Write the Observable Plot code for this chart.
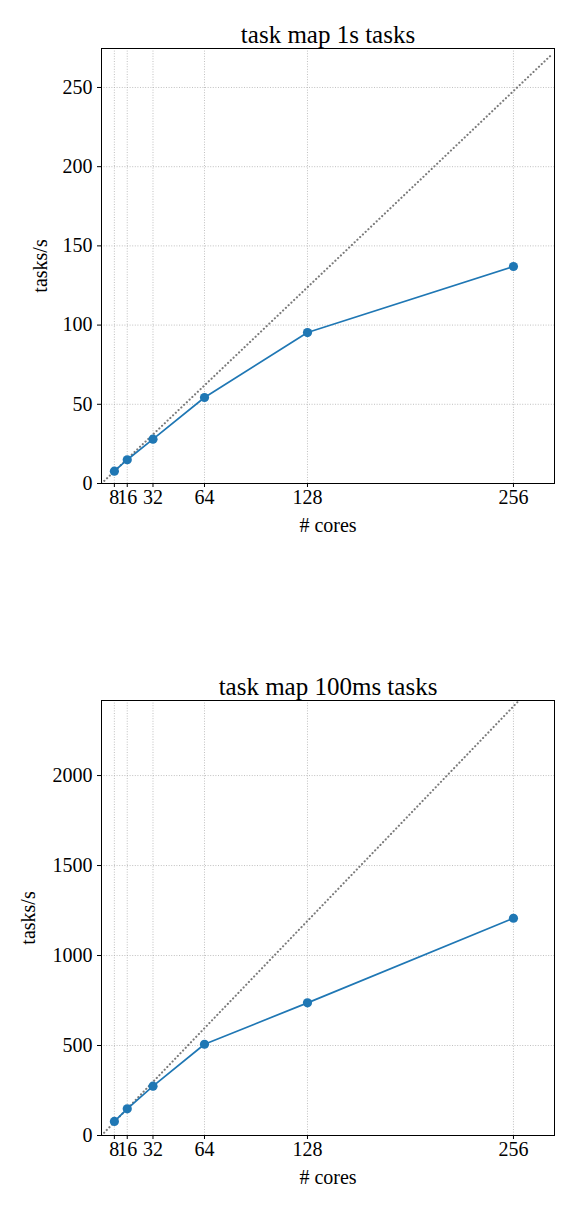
<!DOCTYPE html>
<html>
<head>
<meta charset="utf-8">
<script src="https://cdn.jsdelivr.net/npm/d3@7"></script>
<script src="https://cdn.jsdelivr.net/npm/@observablehq/plot@0.6"></script>
<style>
  html, body { margin: 0; padding: 0; background: white; }
  #chart > div, #chart svg { display: block; }
</style>
</head>
<body>
<div id="chart"></div>
<script>
const cores = [8, 16, 32, 64, 128, 256];
const tasks1s = [7.8, 15, 28, 54.3, 95.3, 137];
const tasks100ms = [78, 148, 274, 507, 737, 1207];
const idealX1s = [0, 280];
const idealY1s = [0, 271];
const idealX100ms = [0, 258.4];
const idealY100ms = [0, 2407];
const yTicks1s = [0, 50, 100, 150, 200, 250];
const yTicks100ms = [0, 500, 1000, 1500, 2000];
const titles = ["task map 1s tasks", "task map 100ms tasks"];
const xLabel = "# cores";
const yLabel = "tasks/s";

const FONT = "'Liberation Serif', 'DejaVu Serif', serif";
const BLUE = "#1f77b4";

function makeChart({title, values, idealX, idealY, yDomain, yTicks, height, marginTop, marginBottom, ylabelDx}) {
  const data = cores.map((c, i) => ({cores: c, rate: values[i]}));
  const ideal = idealX.map((x, i) => ({x, y: idealY[i]}));
  return Plot.plot({
    width: 581,
    height,
    marginLeft: 101,
    marginRight: 27,
    marginTop,
    marginBottom,
    style: {fontFamily: FONT, fontSize: "20px", color: "black", background: "white"},
    x: {domain: [0, 281.5]},
    y: {domain: yDomain},
    marks: [
      Plot.gridX(cores, {stroke: "#b0b0b0", strokeOpacity: 1, strokeWidth: 0.8, strokeDasharray: "1,1.6"}),
      Plot.gridY(yTicks, {stroke: "#b0b0b0", strokeOpacity: 1, strokeWidth: 0.8, strokeDasharray: "1,1.6"}),
      Plot.line(ideal, {x: "x", y: "y", stroke: "#7a7a7a", strokeWidth: 2.1, strokeLinecap: "round", strokeDasharray: "0.1,3.7", clip: true}),
      Plot.line(data, {x: "cores", y: "rate", stroke: BLUE, strokeWidth: 1.7}),
      Plot.dot(data, {x: "cores", y: "rate", r: 4.6, fill: BLUE, stroke: "none"}),
      Plot.axisX(cores, {label: null, tickSize: 4, tickPadding: 2, fontSize: 20, tickFormat: d3.format("d")}),
      Plot.axisY(yTicks, {label: null, tickSize: 4, tickPadding: 5, fontSize: 20, tickFormat: d3.format("d")}),
      Plot.frame({stroke: "black", strokeWidth: 1}),
      Plot.text([title], {frameAnchor: "top", lineAnchor: "middle", dy: -14, fontSize: 25, fill: "black"}),
      Plot.text([xLabel], {frameAnchor: "bottom", lineAnchor: "middle", dy: 42, fontSize: 20, fill: "black"}),
      Plot.text([yLabel], {frameAnchor: "left", textAnchor: "middle", lineAnchor: "middle", dx: ylabelDx, rotate: -90, fontSize: 20, fill: "black"})
    ]
  });
}

const chart = document.getElementById("chart");
chart.append(makeChart({
  title: titles[0], values: tasks1s, idealX: idealX1s, idealY: idealY1s,
  yDomain: [0, 274.6], yTicks: yTicks1s,
  height: 605, marginTop: 48, marginBottom: 122, ylabelDx: -61
}));
chart.append(makeChart({
  title: titles[1], values: tasks100ms, idealX: idealX100ms, idealY: idealY100ms,
  yDomain: [0, 2417], yTicks: yTicks100ms,
  height: 606, marginTop: 95, marginBottom: 76, ylabelDx: -73
}));
</script>
</body>
</html>
